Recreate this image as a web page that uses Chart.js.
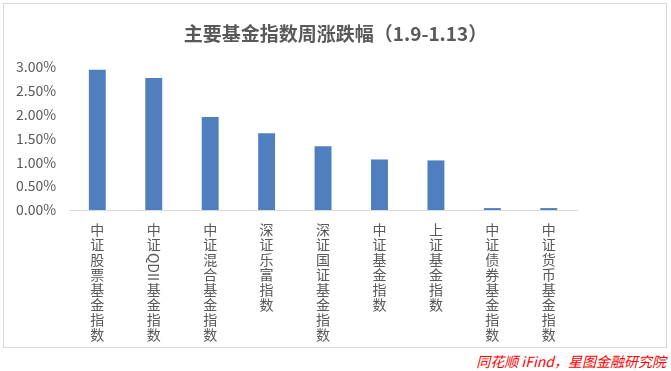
<!DOCTYPE html>
<html>
<head>
<meta charset="utf-8">
<script src="https://cdn.jsdelivr.net/npm/chart.js@4"></script>
<style>
  body { margin: 0; background: #fff; width: 671px; height: 371px; position: relative; overflow: hidden; }
  #box { position: absolute; left: 3px; top: 3px; width: 662px; height: 343px; border: 1px solid #d9d9d9; }
  #title { position: absolute; left: 0; top: 19px; width: 100%; text-align: center; color: #595959;
    font: bold 19px "Noto Sans CJK SC", sans-serif; }
  #src { position: absolute; right: 5px; top: 351px; color: #ff0000; font: italic 14px "Noto Sans CJK SC", sans-serif; }
</style>
</head>
<body>
<div id="box"><canvas id="c" width="662" height="343"></canvas></div>
<div id="title">主要基金指数周涨跌幅（1.9-1.13）</div>
<div id="src">同花顺 iFind，星图金融研究院</div>
<script>
// 主要基金指数周涨跌幅
const names = ['中证股票基金指数', '中证QDII基金指数', '中证混合基金指数', '深证乐富指数', '深证国证基金指数',
  '中证基金指数', '上证基金指数', '中证债券基金指数', '中证货币基金指数'];
const weekChange = [2.94, 2.77, 1.95, 1.61, 1.34, 1.06, 1.04, 0.04, 0.04];
const yTicks = [0, 0.5, 1.0, 1.5, 2.0, 2.5, 3.0];

const FONT = '"Noto Sans CJK SC"';
const ROW = 15; // 竖排每个字的行高
const XPAD = 4;

// 竖排标签：每个字一行；拉丁字母串（QDII）占两行，之后横着转90度画
function vertical(s) {
  const out = [];
  s.replace(/[A-Z]+/g, '\u0001').split('').forEach(ch => {
    if (ch === '\u0001') out.push('', '');
    else out.push(ch);
  });
  return out;
}

const rotatedLatin = {
  id: 'rotatedLatin',
  afterDraw(chart) {
    const scale = chart.scales.x;
    const c = chart.ctx;
    names.forEach((s, i) => {
      const m = s.match(/[A-Z]+/);
      if (!m) return;
      const top = scale.top + 8 + XPAD;
      const yc = top + ROW * (m.index + 1);
      c.save();
      c.translate(scale.getPixelForTick(i), yc);
      c.rotate(Math.PI / 2);
      c.font = '14px ' + FONT;
      c.fillStyle = '#595959';
      c.textAlign = 'center';
      c.textBaseline = 'middle';
      c.fillText(m[0], 0, 0);
      c.restore();
    });
  }
};

const ctx = document.getElementById('c').getContext('2d');
new Chart(ctx, {
  type: 'bar',
  data: {
    labels: names.map(vertical),
    datasets: [{
      data: weekChange,
      backgroundColor: '#4f7fbf',
      barPercentage: 0.3,
      categoryPercentage: 1
    }]
  },
  options: {
    responsive: false,
    animation: false,
    layout: { padding: { left: 7, right: 89, top: 63, bottom: 1 } },
    plugins: {
      legend: { display: false },
      tooltip: { enabled: false }
    },
    scales: {
      x: {
        grid: { display: false },
        border: { color: '#d9d9d9' },
        ticks: {
          color: '#595959',
          maxRotation: 0,
          autoSkip: false,
          padding: XPAD,
          font: { family: FONT, size: 14, lineHeight: ROW / 14 }
        }
      },
      y: {
        min: 0,
        max: 3,
        afterBuildTicks: axis => { axis.ticks = yTicks.map(v => ({ value: v })); },
        grid: { display: false },
        border: { display: false },
        ticks: {
          color: '#595959',
          padding: 5,
          font: { family: FONT, size: 14 },
          callback: v => v.toFixed(2) + '%'
        }
      }
    }
  },
  plugins: [rotatedLatin]
});
</script>
</body>
</html>
